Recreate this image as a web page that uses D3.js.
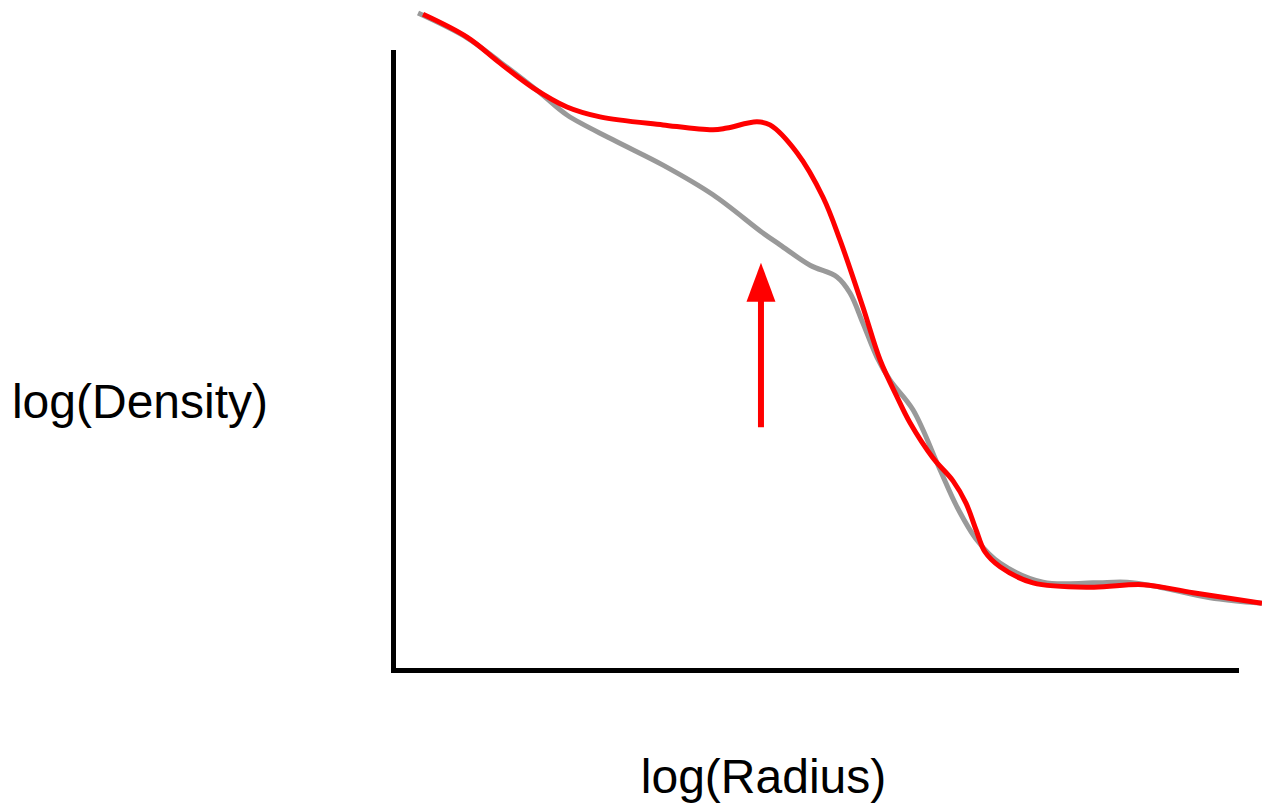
<!DOCTYPE html>
<html>
<head>
<meta charset="utf-8">
<script src="https://cdn.jsdelivr.net/npm/d3@7"></script>
<style>
  html, body { margin: 0; padding: 0; background: #fff; }
  svg { display: block; }
  .label { font-family: Arial, "Liberation Sans", sans-serif; font-size: 48px; fill: #000; }
</style>
</head>
<body>
<svg id="chart" width="1262" height="806"></svg>
<script>
// Unperturbed profile (log radius, log density)
const baseRadius  = [0.297, 0.878, 1.269, 1.744, 2.064, 2.610, 3.203, 3.796, 4.389, 4.591, 4.947, 5.267, 5.421, 5.575, 5.741, 5.896, 6.168, 6.489, 6.690, 6.928, 7.201, 7.711, 8.304, 8.707, 9.098, 9.692, 10.308];
const baseDensity = [10.63, 10.23, 9.84, 9.34, 8.98, 8.58, 8.17, 7.69, 7.07, 6.88, 6.55, 6.36, 6.10, 5.61, 5.06, 4.69, 4.21, 3.24, 2.64, 2.10, 1.73, 1.42, 1.41, 1.42, 1.34, 1.17, 1.08];

// Profile with the density bump
const bumpRadius  = [0.356, 0.878, 1.269, 1.661, 2.064, 2.456, 3.203, 3.796, 3.962, 4.318, 4.472, 4.792, 5.101, 5.302, 5.575, 5.777, 5.979, 6.133, 6.406, 6.643, 6.797, 6.916, 7.023, 7.201, 7.592, 8.304, 8.897, 9.490, 10.308];
const bumpDensity = [10.61, 10.24, 9.82, 9.42, 9.11, 8.95, 8.82, 8.74, 8.77, 8.87, 8.82, 8.37, 7.65, 6.96, 5.87, 5.02, 4.42, 4.00, 3.43, 3.06, 2.70, 2.27, 1.91, 1.67, 1.41, 1.34, 1.38, 1.25, 1.08];

// Arrow marking the bump: radius, tail density, tip density
const arrowRadius = [4.365];
const arrowDensity = [3.93, 6.59];

const axisTitles = ["log(Radius)", "log(Density)"];

const svg = d3.select("#chart");

const x = d3.scaleLinear().domain([0, 10]).range([393, 1236]);
const y = d3.scaleLinear().domain([0, 10]).range([670, 52]);

// Axes: bare lines, no ticks
const xAxis = svg.append("g")
  .attr("transform", `translate(0,${y(0)})`)
  .call(d3.axisBottom(x).ticks(0).tickSizeOuter(0));
const yAxis = svg.append("g")
  .attr("transform", `translate(${x(0)},0)`)
  .call(d3.axisLeft(y).ticks(0).tickSizeOuter(0));
[xAxis, yAxis].forEach(g => {
  g.select(".domain")
    .attr("stroke", "#000")
    .attr("stroke-width", 5)
    .attr("stroke-linecap", "square");
});

const line = d3.line()
  .x(d => x(d[0]))
  .y(d => y(d[1]))
  .curve(d3.curveCatmullRom.alpha(0.5));

const basePts = d3.zip(baseRadius, baseDensity);
const bumpPts = d3.zip(bumpRadius, bumpDensity);

svg.append("path")
  .datum(basePts)
  .attr("d", line)
  .attr("fill", "none")
  .attr("stroke", "#999999")
  .attr("stroke-width", 5);

svg.append("path")
  .datum(bumpPts)
  .attr("d", line)
  .attr("fill", "none")
  .attr("stroke", "#ff0000")
  .attr("stroke-width", 5);

// Arrow
const ax = x(arrowRadius[0]);
const tailY = y(arrowDensity[0]);
const tipY = y(arrowDensity[1]);
const headLen = 39, headHalf = 14.5;
svg.append("line")
  .attr("x1", ax).attr("x2", ax)
  .attr("y1", tailY).attr("y2", tipY + headLen - 2)
  .attr("stroke", "#ff0000")
  .attr("stroke-width", 6);
svg.append("path")
  .attr("d", `M${ax},${tipY}L${ax + headHalf},${tipY + headLen}L${ax - headHalf},${tipY + headLen}Z`)
  .attr("fill", "#ff0000");

// Axis titles
svg.append("text")
  .attr("class", "label")
  .attr("x", 763.5).attr("y", 793)
  .attr("text-anchor", "middle")
  .text(axisTitles[0]);
svg.append("text")
  .attr("class", "label")
  .attr("x", 140).attr("y", 418)
  .attr("text-anchor", "middle")
  .text(axisTitles[1]);
</script>
</body>
</html>
